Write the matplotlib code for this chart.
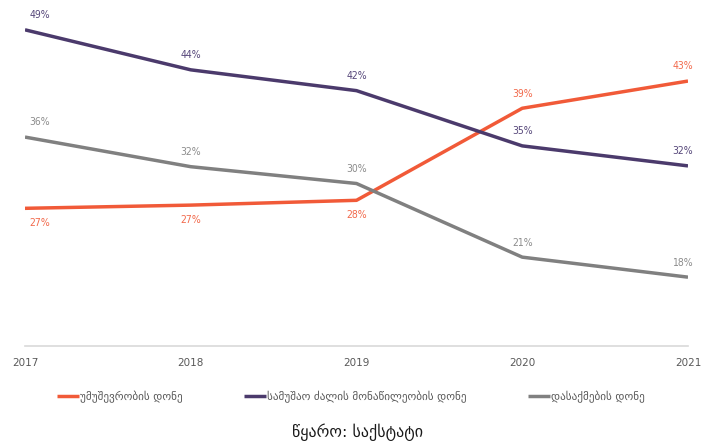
import matplotlib.pyplot as plt
import numpy as np

# data (percent)
years = [2017, 2018, 2019, 2020, 2021]
unemployment = [26.9, 27.3, 27.9, 39.4, 42.8]
participation = [49.2, 44.2, 41.6, 34.7, 32.2]
employment = [35.8, 32.1, 30.0, 20.8, 18.3]

names = ['უმუშევრობის დონე', 'სამუშაო ძალის მონაწილეობის დონე', 'დასაქმების დონე']
source_text = 'წყარო: საქსტატი'

colors = ['#F15A38', '#4B3A6C', '#808080']
label_colors = ['#F26A4C', '#56477A', '#8C8C8C']
# +1 label above the point, -1 below
placement = [[-1, -1, -1, 1, 1], [1, 1, 1, 1, 1], [1, 1, 1, 1, 1]]

plt.rcParams['font.family'] = ['DejaVu Sans']

fig = plt.figure(figsize=(7.15, 4.42), dpi=100)
ax = fig.add_axes([25 / 715, (442 - 346) / 442, 663 / 715, 341 / 442])

series = [unemployment, participation, employment]
for vals, c, lc, pl, nm in zip(series, colors, label_colors, placement, names):
    ax.plot(years, vals, color=c, linewidth=2.5, label=nm, solid_capstyle='butt', zorder=3)
    for i, (x, v) in enumerate(zip(years, vals)):
        if i == 0:
            dx, ha = 3, 'left'
        elif i == len(years) - 1:
            dx, ha = -4, 'center'
        else:
            dx, ha = 0, 'center'
        dy = 10.5 * pl[i]
        ax.annotate(f'{v:.0f}%', (x, v), xytext=(dx, dy), textcoords='offset points',
                    ha=ha, va='center', fontsize=7.5, color=lc, fontstretch='condensed')

ax.set_xlim(2017, 2021)
ax.set_ylim(9.7, 52.3)
ax.set_xticks(years)
ax.set_xticklabels([str(y) for y in years], fontsize=7.5, color='#595959')
ax.tick_params(axis='x', length=0, pad=9)
ax.set_yticks([])
for s in ['top', 'right', 'left']:
    ax.spines[s].set_visible(False)
ax.spines['bottom'].set_color('#D9D9D9')
ax.spines['bottom'].set_linewidth(1.2)
ax.patch.set_alpha(0)

fig.legend(*ax.get_legend_handles_labels(), loc='center', bbox_to_anchor=(0.491, (442 - 397) / 442),
           ncol=3, frameon=False, fontsize=8, handlelength=2.0, handletextpad=0.1,
           columnspacing=5.5, labelcolor='#595959')

fig.text(0.5, (442 - 432) / 442, source_text, ha='center', va='center', fontsize=11.5, color='#1a1a1a')

fig.savefig('out.png', dpi=100)
